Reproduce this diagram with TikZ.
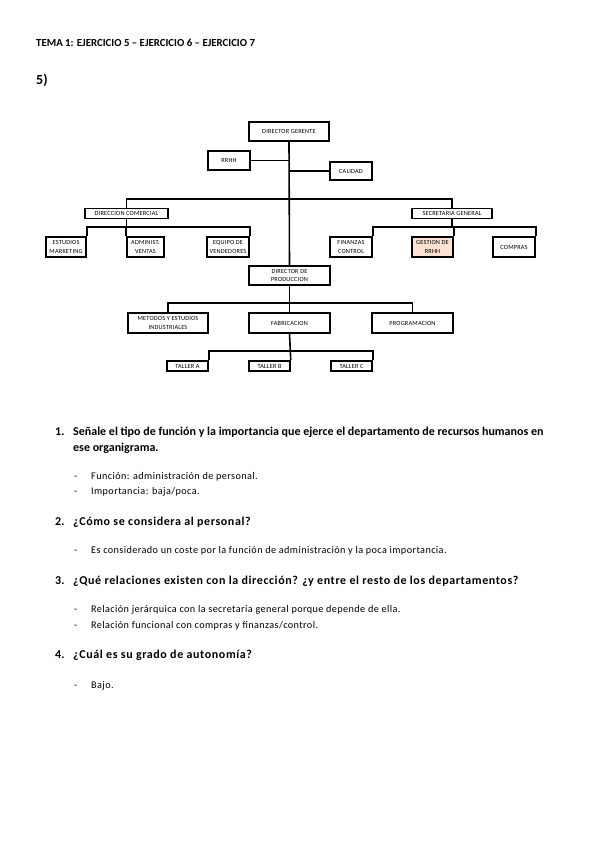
\documentclass[tikz,border=0pt]{standalone}
\usepackage{fontspec}
\setmainfont{Carlito}
\newfontfamily\spaced[LetterSpace=4]{Carlito}
\newfontfamily\qspaced[LetterSpace=5]{Carlito}
\newfontfamily\boxfont[LetterSpace=3]{Carlito}
\begin{document}
\begin{tikzpicture}[x=1pt,y=-1pt,
  box/.style={draw, line width=1.5pt, fill=white, inner sep=0pt, align=center,
    font=\boxfont\fontsize{6.3}{8.5}\selectfont},
  conn/.style={line width=1.6pt},
  hd/.style={anchor=base west, inner sep=0pt, font=\bfseries\fontsize{10.8}{12}\selectfont},
  qn/.style={anchor=base west, inner sep=0pt, font=\bfseries\fontsize{12}{14}\selectfont},
  qs/.style={anchor=base west, inner sep=0pt, font=\qspaced\bfseries\fontsize{12}{14}\selectfont},
  bl/.style={anchor=base west, inner sep=0pt, font=\spaced\fontsize{10.2}{12}\selectfont}]
\useasboundingbox[fill=white] (0,0) rectangle (599,848);
% header
\node[hd] (title) at (36,47) {TEMA 1: EJERCICIO 5 -- EJERCICIO 6 -- EJERCICIO 7};
\node[qn, font=\bfseries\fontsize{14}{16}\selectfont] (five) at (36,85) {5)};
% chart boxes
\node[box, minimum width=80pt, minimum height=19pt] (dg) at (289,131.5) {DIRECTOR GERENTE};
\node[box, minimum width=42pt, minimum height=19pt] (rrhh) at (229,160.5) {RRHH};
\node[box, minimum width=42pt, minimum height=18pt] (cal) at (351,171) {CALIDAD};
\node[box, minimum width=83pt, minimum height=10pt] (dc) at (126.5,213.5) {DIRECCION COMERCIAL};
\node[box, minimum width=80pt, minimum height=10pt] (sg) at (452,213.5) {SECRETARIA GENERAL};
\node[box, minimum width=40pt, minimum height=20pt] (em) at (66,247) {ESTUDIOS\\MARKETING};
\node[box, minimum width=37pt, minimum height=20pt] (av) at (145.5,247) {ADMINIST.\\VENTAS};
\node[box, minimum width=42pt, minimum height=20pt] (ev) at (228,247) {EQUIPO DE\\VENDEDORES};
\node[box, minimum width=42pt, minimum height=20pt] (fc) at (351,247) {FINANZAS\\CONTROL};
\node[box, minimum width=41pt, minimum height=20pt, fill={rgb,255:red,251;green,226;blue,210}] (gr) at (432.5,247) {GESTION DE\\RRHH};
\node[box, minimum width=42pt, minimum height=20pt] (co) at (514,247) {COMPRAS};
\node[box, minimum width=81pt, minimum height=19pt] (dp) at (289.5,275.5) {DIRECTOR DE\\PRODUCCION};
\node[box, minimum width=80pt, minimum height=20pt] (me) at (168,323) {METODOS Y ESTUDIOS\\INDUSTRIALES};
\node[box, minimum width=81pt, minimum height=20pt] (fa) at (289.5,323) {FABRICACION};
\node[box, minimum width=81pt, minimum height=20pt] (pr) at (412.5,323) {PROGRAMACION};
\node[box, minimum width=41pt, minimum height=10pt] (ta) at (187.5,366) {TALLER A};
\node[box, minimum width=41pt, minimum height=10pt] (tb) at (269.5,366) {TALLER B};
\node[box, minimum width=41pt, minimum height=10pt] (tc) at (351.5,366) {TALLER C};
% helper levels
\coordinate (l1) at (0,199);
\coordinate (l2) at (0,227);
\coordinate (l3) at (0,303);
\coordinate (l4) at (0,351);
% connectors
\draw[conn] (dg.south) -- (dp.north);
\draw[conn] (rrhh.east) -- (dg.south |- rrhh.east);
\draw[conn] (cal.west) -- (dg.south |- cal.west);
\draw[conn] (dc.north) -- (dc.north |- l1) -- (sg.north |- l1) -- (sg.north);
\draw[conn] (dc.south) -- (dc.south |- l2);
\draw[conn] (em.north east) -- (em.north east |- l2) -- (ev.north east |- l2) -- (ev.north east);
\draw[conn] (av.north west) -- (av.north west |- l2);
\draw[conn] (sg.south) -- (sg.south |- l2);
\draw[conn] (fc.north east) -- (fc.north east |- l2) -- (co.north east |- l2) -- (co.north east);
\draw[conn] (gr.north east) -- (gr.north east |- l2);
\draw[conn] (dp.south) -- (fa.north);
\draw[conn] (me.north) -- (me.north |- l3) -- (pr.north |- l3) -- (pr.north);
\draw[conn] (fa.south) -- (tb.north east);
\draw[conn] (ta.north east) -- (ta.north east |- l4) -- (tc.north east |- l4) -- (tc.north east);
% questions
\node[qn] (q1n) at (55,435) {1.};
\node[qn] (q1a) at (73,435) {Señale el tipo de función y la importancia que ejerce el departamento de recursos humanos en};
\node[qn] (q1b) at (73,451) {ese organigrama.};
\node[bl] (b1d) at (74,479.5) {-};
\node[bl] (b1a) at (91,479.5) {Función: administración de personal.};
\node[bl] (b2d) at (74,494.5) {-};
\node[bl] (b2a) at (91,494.5) {Importancia: baja/poca.};
\node[qn] (q2n) at (55,525) {2.};
\node[qs] (q2a) at (73,525) {¿Cómo se considera al personal?};
\node[bl] (b3d) at (74,553.5) {-};
\node[bl] (b3a) at (91,553.5) {Es considerado un coste por la función de administración y la poca importancia.};
\node[qn] (q3n) at (55,584) {3.};
\node[qs] (q3a) at (73,584) {¿Qué relaciones existen con la dirección? ¿y entre el resto de los departamentos?};
\node[bl] (b4d) at (74,612.5) {-};
\node[bl] (b4a) at (91,612.5) {Relación jerárquica con la secretaria general porque depende de ella.};
\node[bl] (b5d) at (74,628.5) {-};
\node[bl] (b5a) at (91,628.5) {Relación funcional con compras y finanzas/control.};
\node[qn] (q4n) at (55,658) {4.};
\node[qs] (q4a) at (73,658) {¿Cuál es su grado de autonomía?};
\node[bl] (b6d) at (74,688.5) {-};
\node[bl] (b6a) at (91,688.5) {Bajo.};
\end{tikzpicture}
\end{document}
